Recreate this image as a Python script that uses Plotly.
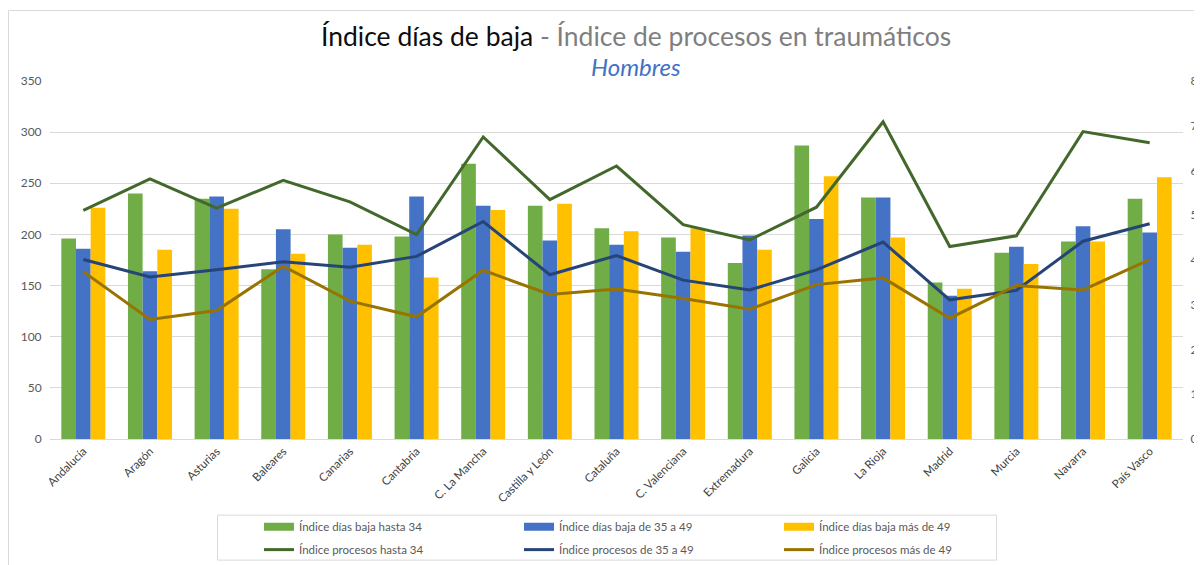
import plotly.graph_objects as go

categorias = ["Andalucía", "Aragón", "Asturias", "Baleares", "Canarias", "Cantabria",
              "C. La Mancha", "Castilla y León", "Cataluña", "C. Valenciana", "Extremadura",
              "Galicia", "La Rioja", "Madrid", "Murcia", "Navarra", "País Vasco"]

dias_hasta_34 = [196, 240, 235, 166, 200, 198, 269, 228, 206, 197, 172, 287, 236, 153, 182, 193, 235]
dias_35_49 = [186, 164, 237, 205, 187, 237, 228, 194, 190, 183, 199, 215, 236, 140, 188, 208, 202]
dias_mas_49 = [226, 185, 225, 181, 190, 158, 224, 230, 203, 206, 185, 257, 197, 147, 171, 193, 256]

proc_hasta_34 = [5.11, 5.81, 5.16, 5.78, 5.30, 4.57, 6.75, 5.35, 6.10, 4.79, 4.45, 5.18, 7.09, 4.30, 4.54, 6.87, 6.62]
proc_35_49 = [4.01, 3.62, 3.78, 3.96, 3.84, 4.08, 4.86, 3.67, 4.10, 3.55, 3.33, 3.78, 4.40, 3.11, 3.32, 4.42, 4.81]
proc_mas_49 = [3.74, 2.67, 2.87, 3.86, 3.08, 2.73, 3.77, 3.23, 3.35, 3.14, 2.90, 3.45, 3.60, 2.70, 3.43, 3.33, 4.01]

left_ticks = [0, 50, 100, 150, 200, 250, 300, 350]
right_ticks = [0, 1, 2, 3, 4, 5, 6, 7, 8]

FONT = "Lato"
fig = go.Figure()

bars = [
    ("Índice días baja hasta 34", dias_hasta_34, "#70AD47"),
    ("Índice días baja de 35 a 49", dias_35_49, "#4472C4"),
    ("Índice días baja más de 49", dias_mas_49, "#FFC000"),
]
for name, vals, col in bars:
    fig.add_trace(go.Bar(x=categorias, y=vals, name=name, marker=dict(color=col, line=dict(width=0)),
                         showlegend=False, legendgroup=name))
# wide rectangular legend swatches for the bar series (legend entries only)
for name, vals, col in bars:
    fig.add_trace(go.Scatter(x=[None], y=[None], name=name, mode="lines", legendgroup=name,
                             line=dict(color=col, width=8), legend="legend", hoverinfo="skip"))

lines = [
    ("Índice procesos hasta 34", proc_hasta_34, "#43682B"),
    ("Índice procesos de 35 a 49", proc_35_49, "#264478"),
    ("Índice procesos más de 49", proc_mas_49, "#997300"),
]
for name, vals, col in lines:
    fig.add_trace(go.Scatter(x=categorias, y=vals, name=name, mode="lines", yaxis="y2",
                             line=dict(color=col, width=3), legend="legend2"))

# page body has an 8px margin: figure is drawn 8px right/down of the window corner
OFF = 8
W, H = 1202 - OFF, 565 - OFF
PL, PR, PT, PB = 50, 1183, 81, 439.3  # plot area in window pixels
L, R, T, B = PL - OFF, W - (PR - OFF), PT - OFF, H - (PB - OFF)
pw, ph = W - L - R, H - T - B

def px(x):
    return (x - OFF - L) / pw

def py(y):
    return (H - B - (y - OFF)) / ph

leg_common = dict(orientation="h", xanchor="left", yanchor="top", entrywidth=215,
                  entrywidthmode="pixels", font=dict(family=FONT, size=11.5, color="#595959"),
                  bgcolor="rgba(0,0,0,0)", borderwidth=0)

fig.update_layout(
    width=W, height=H,
    template="none",
    paper_bgcolor="white", plot_bgcolor="white",
    margin=dict(l=L, r=R, t=T, b=B, pad=0, autoexpand=False),
    barmode="group", bargap=0.34, bargroupgap=0,
    font=dict(family=FONT, color="#595959"),
    xaxis=dict(type="category", tickangle=-45, tickfont=dict(family=FONT, size=11.5, color="#404040"),
               showgrid=False, showline=True, linecolor="#D9D9D9", linewidth=1, ticks="",
               automargin=False, zeroline=False),
    yaxis=dict(range=[0, 350], tickvals=left_ticks, tickfont=dict(family=FONT, size=12, color="#595959"),
               showgrid=True, gridcolor="#D9D9D9", gridwidth=1, zeroline=False, showline=False,
               ticks="outside", ticklen=5, tickcolor="rgba(0,0,0,0)", automargin=False),
    yaxis2=dict(range=[0, 8], tickvals=right_ticks, overlaying="y", side="right",
                tickfont=dict(family=FONT, size=12, color="#595959"), showgrid=False,
                zeroline=False, showline=False, ticks="outside", ticklen=4,
                tickcolor="rgba(0,0,0,0)", automargin=False),
    legend=dict(x=px(259), y=py(512.5), **leg_common),
    legend2=dict(x=px(259), y=py(535.5), **leg_common),
    showlegend=True,
)

fig.add_annotation(
    x=px(636), y=py(36), xref="paper", yref="paper", showarrow=False, xanchor="center", yanchor="middle",
    text="Índice días de baja<span style='color:#7F7F7F'> - Índice de procesos en traumáticos</span>",
    font=dict(family=FONT, size=26.5, color="#0D0D0D"),
)
fig.add_annotation(
    x=px(636), y=py(66), xref="paper", yref="paper", showarrow=False, xanchor="center", yanchor="middle",
    text="<i>Hombres</i>", font=dict(family=FONT, size=24, color="#4472C4"),
)

# legend frame and chart frame
fig.add_shape(type="rect", xref="paper", yref="paper", x0=px(217.5), x1=px(996.5), y0=py(560.5), y1=py(515.5),
              line=dict(color="#D9D9D9", width=1), fillcolor="rgba(0,0,0,0)", layer="above")
fig.add_shape(type="rect", xref="paper", yref="paper", x0=px(8.5), x1=px(1215), y0=py(590), y1=py(10.5),
              line=dict(color="#D9D9D9", width=1), fillcolor="rgba(0,0,0,0)", layer="above")

fig.write_html("out.html")
